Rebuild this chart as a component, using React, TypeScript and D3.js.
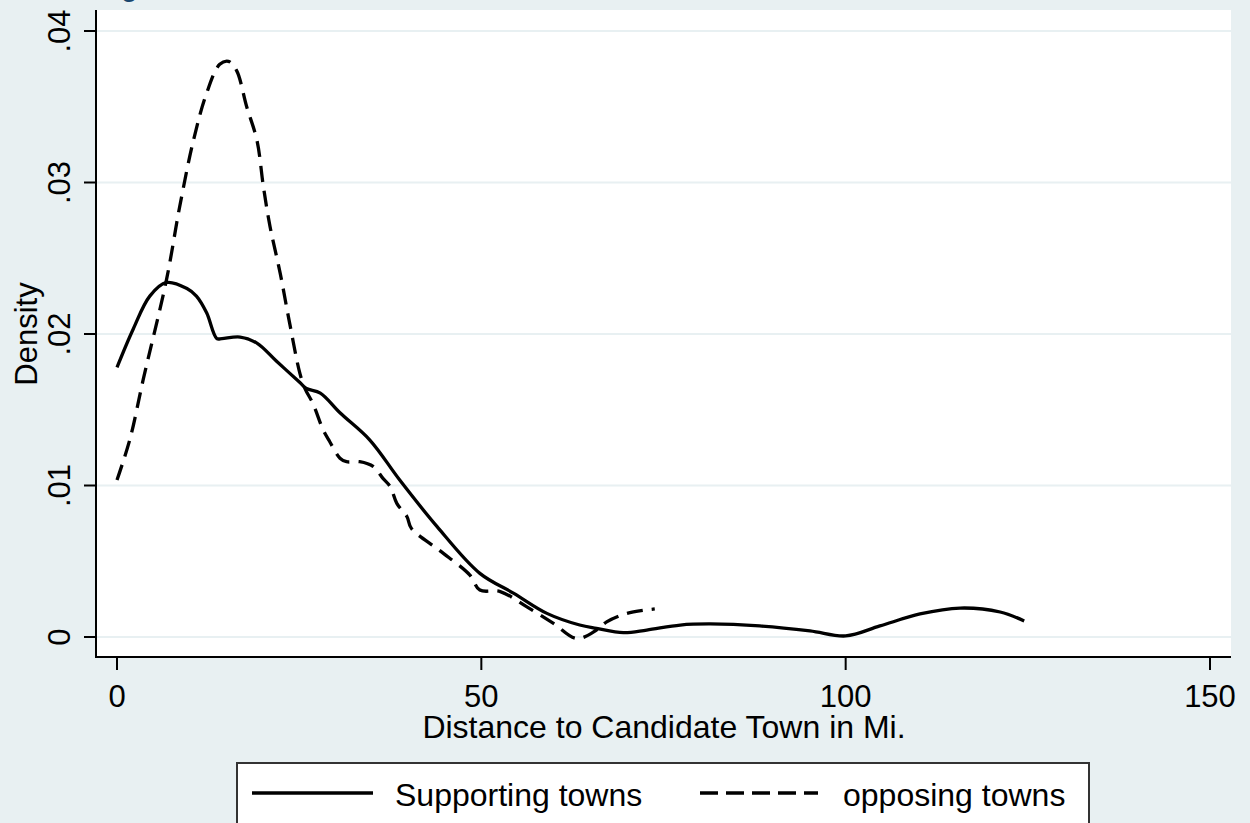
import React from "react";
import * as d3 from "d3";

const supportX = [0, 2.2, 4.5, 6.8, 9.6, 10.9, 12.3, 13.7, 14.4, 16.9, 19.2, 21.9, 25.1, 26.0, 27.9, 30.6, 34.7, 38.8, 43.9, 49.8, 54.4, 59.0, 63.5, 65.8, 69.5, 72.7, 77.3, 81.4, 88.2, 95.1, 100, 104.7, 110.2, 115.7, 121.2, 124.5];
const supportY = [0.0178, 0.0203, 0.0225, 0.0234, 0.0230, 0.0225, 0.0214, 0.0197, 0.0197, 0.0198, 0.0194, 0.0182, 0.0168, 0.0164, 0.0161, 0.0148, 0.0130, 0.01036, 0.0073, 0.0042, 0.0029, 0.00156, 0.00079, 0.00057, 0.00029, 0.00046, 0.00079, 0.00086, 0.00073, 0.0004, 0.00007, 0.00073, 0.00152, 0.00191, 0.00165, 0.00106];

const opposeX = [0, 1.8, 3.6, 6.8, 8.6, 10.5, 12.3, 14.1, 15.3, 16.4, 17.8, 19.2, 20.1, 21.0, 22.4, 23.7, 25.1, 25.8, 26.9, 28.3, 29.2, 30.6, 31.5, 33.3, 35.2, 36.5, 37.5, 38.4, 39.8, 40.4, 44.3, 48.4, 49.8, 52.6, 56.2, 59.9, 63.1, 65.8, 67.2, 70.0, 73.8];
const opposeY = [0.01036, 0.0131, 0.0170, 0.0236, 0.0284, 0.0328, 0.0359, 0.0378, 0.0380, 0.0374, 0.0350, 0.0328, 0.0297, 0.0271, 0.0240, 0.0207, 0.0174, 0.0164, 0.0154, 0.01366, 0.01289, 0.0118, 0.01157, 0.01157, 0.01124, 0.01047, 0.00992, 0.00882, 0.00794, 0.00717, 0.0057, 0.0041, 0.0031, 0.0030, 0.0020, 0.0009, -0.0001, 0.00046, 0.0010, 0.00156, 0.00185];

const xTicks = [0, 50, 100, 150];
const yTicks = [0, 0.01, 0.02, 0.03, 0.04];
const yTickLabels = ["0", ".01", ".02", ".03", ".04"];
const seriesNames = ["Supporting towns", "opposing towns"];
const xTitle = "Distance to Candidate Town in Mi.";
const yTitle = "Density";

const W = 1250, H = 823;
const PL = 96, PR = 1231, PT = 10, PB = 657;
const BG = "#e8f0f2";
const FONT = "Arial, 'Liberation Sans', sans-serif";

export default function App() {
  const x = d3.scaleLinear().domain([0, 150]).range([117, 1210]);
  const y = d3.scaleLinear().domain([0, 0.04]).range([637, 31]);
  const line = d3
    .line<[number, number]>()
    .x((d) => x(d[0]))
    .y((d) => y(d[1]))
    .curve(d3.curveCatmullRom.alpha(0.5));
  const sPts = supportX.map((v, i) => [v, supportY[i]] as [number, number]);
  const oPts = opposeX.map((v, i) => [v, opposeY[i]] as [number, number]);

  return (
    <svg width={W} height={H} style={{ position: "absolute", left: 0, top: 0, display: "block" }} fontFamily={FONT}>
      <rect x={0} y={0} width={W} height={H} fill={BG} />
      <text x={96} y={-4} fontSize={30} fill="#1a476f">Fig.</text>
      <rect x={PL} y={PT} width={PR - PL} height={PB - PT} fill="#ffffff" />
      {yTicks.map((t) => (
        <line key={"g" + t} x1={PL} x2={PR} y1={y(t)} y2={y(t)} stroke={BG} strokeWidth={2} />
      ))}
      <line x1={PL} x2={PL} y1={PT} y2={PB + 1} stroke="#000" strokeWidth={2} />
      <line x1={PL - 1} x2={PR} y1={PB} y2={PB} stroke="#000" strokeWidth={2} />
      {yTicks.map((t, i) => (
        <g key={"yt" + t}>
          <line x1={84} x2={PL} y1={y(t)} y2={y(t)} stroke="#000" strokeWidth={2} />
          <text transform={`translate(70,${y(t)}) rotate(-90)`} textAnchor="middle" fontSize={31} fill="#000">
            {yTickLabels[i]}
          </text>
        </g>
      ))}
      {xTicks.map((t) => (
        <g key={"xt" + t}>
          <line x1={x(t)} x2={x(t)} y1={PB} y2={670} stroke="#000" strokeWidth={2} />
          <text x={x(t)} y={707} textAnchor="middle" fontSize={31} fill="#000">
            {t}
          </text>
        </g>
      ))}
      <text x={664} y={738} textAnchor="middle" fontSize={32} fill="#000">{xTitle}</text>
      <text transform={`translate(37,334) rotate(-90)`} textAnchor="middle" fontSize={31} fill="#000">{yTitle}</text>
      <path d={line(sPts) || ""} fill="none" stroke="#000" strokeWidth={3.3} strokeLinejoin="round" />
      <path d={line(oPts) || ""} fill="none" stroke="#000" strokeWidth={3.3} strokeDasharray="16,9" />
      <rect x={237} y={763} width={852} height={80} fill="#fff" stroke="#333" strokeWidth={2} />
      <line x1={252} x2={373} y1={793} y2={793} stroke="#000" strokeWidth={3.5} />
      <text x={395} y={806} fontSize={32} fill="#000">{seriesNames[0]}</text>
      <line x1={700} x2={818} y1={793} y2={793} stroke="#000" strokeWidth={3.5} strokeDasharray="18,8" />
      <text x={843} y={806} fontSize={32} fill="#000">{seriesNames[1]}</text>
    </svg>
  );
}
